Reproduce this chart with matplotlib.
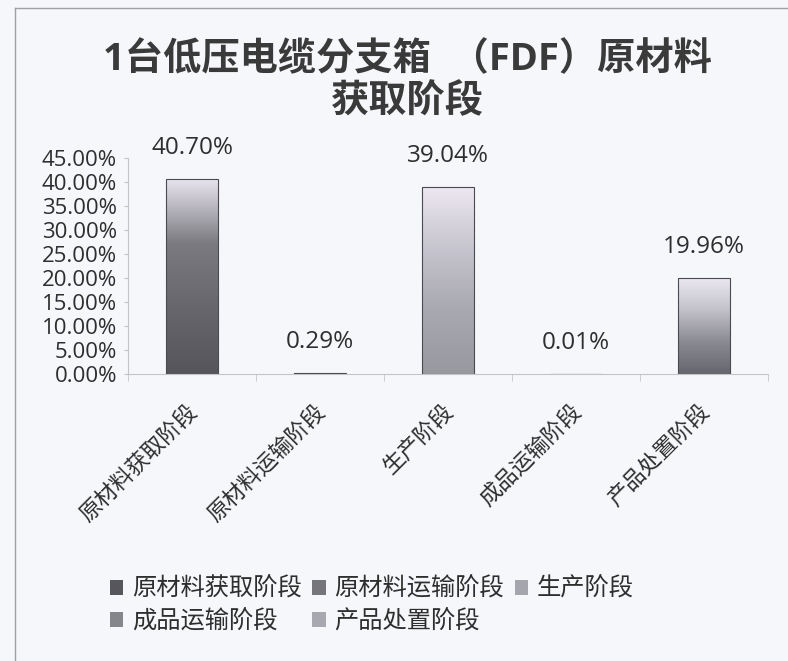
import numpy as np
import matplotlib
matplotlib.use("Agg")
import matplotlib.pyplot as plt
from matplotlib.colors import LinearSegmentedColormap
from matplotlib.patches import Patch
from matplotlib.lines import Line2D
from matplotlib.transforms import ScaledTranslation
from matplotlib.ticker import FixedLocator, PercentFormatter

plt.rcParams['font.family'] = ['Open Sans', 'Noto Sans CJK SC', 'DejaVu Sans']

# ---- data ----
categories = ["原材料获取阶段", "原材料运输阶段", "生产阶段", "成品运输阶段", "产品处置阶段"]
values = [40.70, 0.29, 39.04, 0.01, 19.96]          # percent
value_labels = ["40.70%", "0.29%", "39.04%", "0.01%", "19.96%"]
yticks = [0, 5, 10, 15, 20, 25, 30, 35, 40, 45]
title_text = "1台低压电缆分支箱  （FDF）原材料\n获取阶段"

# ---- style ----
grad_stops = [
    ["#55555b", "#66666c", "#7a7a80", "#eae6f0"],
    ["#3f3f44", "#505056", "#7a7a80", "#d8d6e0"],
    ["#98989f", "#a8a8b0", "#c6c4ce", "#eee8f2"],
    ["#3f3f44", "#58585e", "#8a8a90", "#dcdae4"],
    ["#66666e", "#8a8a92", "#c2c1ca", "#ebe8f2"],
]
legend_colors = ["#56565c", "#75757b", "#a5a5ad", "#85858c", "#a8a8b0"]
bg = "#f6f7fa"
axis_col = "#c4c4c8"
text_col = "#2e2e2e"

fig = plt.figure(figsize=(7.88, 6.61), dpi=100, facecolor=bg)
ax = fig.add_axes([128/788, 1-374/661, (768-128)/788, (374-158)/661])
ax.set_facecolor(bg)

x = np.arange(len(categories))
bars = ax.bar(x, values, width=0.4, color="none", edgecolor="#4a4a50", linewidth=0.8, zorder=3)
for rect, stops in zip(bars, grad_stops):
    x0, y0 = rect.get_x(), rect.get_y()
    w, h = rect.get_width(), rect.get_height()
    cmap = LinearSegmentedColormap.from_list("g", stops)
    grad = np.linspace(0, 1, 256).reshape(-1, 1)
    im = ax.imshow(grad, extent=[x0, x0 + w, y0, y0 + h], origin="lower",
                   cmap=cmap, aspect="auto", zorder=2, interpolation="bilinear")
    im.set_clip_path(rect)

for xi, v, lab in zip(x, values, value_labels):
    ax.annotate(lab, (xi, v), xytext=(0, 31), textcoords="offset pixels",
                ha="center", va="center", fontsize=17.5, color=text_col)

ax.set_xlim(-0.5, len(categories) - 0.5)
ax.set_ylim(0, 45)
ax.yaxis.set_major_locator(FixedLocator(yticks))
ax.yaxis.set_major_formatter(PercentFormatter(decimals=2))
ax.tick_params(axis="y", labelsize=16, labelcolor=text_col, length=3,
               color=axis_col, pad=5)

ax.set_xticks(x)
ax.set_xticklabels(categories)
ax.set_xticks(np.arange(len(categories) + 1) - 0.5, minor=True)
ax.tick_params(axis="x", which="major", length=0, pad=25, labelsize=16,
               labelcolor=text_col)
ax.tick_params(axis="x", which="minor", length=5, color=axis_col)
offset = ScaledTranslation(0.03, 0, fig.dpi_scale_trans)
for lab in ax.get_xticklabels():
    lab.set_rotation(45)
    lab.set_rotation_mode("anchor")
    lab.set_ha("right")
    lab.set_va("center")
    lab.set_transform(lab.get_transform() + offset)

for s in ["top", "right"]:
    ax.spines[s].set_visible(False)
ax.spines["left"].set_color(axis_col)
ax.spines["bottom"].set_color(axis_col)

fig.text(407/788, 1-81/661, title_text, ha="center", va="center",
         fontsize=27.5, fontweight="bold", color="#3a3a3a", linespacing=1.15)

handles = [Patch(facecolor=c, edgecolor="none") for c in legend_colors]
order = [0, 3, 1, 4, 2]
leg = fig.legend([handles[i] for i in order], [categories[i] for i in order],
                 ncol=3, loc="upper left", bbox_to_anchor=(88/788, 1-556/661),
                 frameon=False, fontsize=17.5, handlelength=0.55, handleheight=0.55,
                 handletextpad=0.35, columnspacing=0.45, labelspacing=0.35)
for t in leg.get_texts():
    t.set_color(text_col)

# scanned page border
fig.add_artist(Line2D([15/788, 15/788], [0, 1-8/661], transform=fig.transFigure,
                      color="#a0a0a4", lw=1))
fig.add_artist(Line2D([15/788, 1], [1-8/661, 1-8/661], transform=fig.transFigure,
                      color="#a0a0a4", lw=1))

fig.savefig("out.png", dpi=100, facecolor=bg)
